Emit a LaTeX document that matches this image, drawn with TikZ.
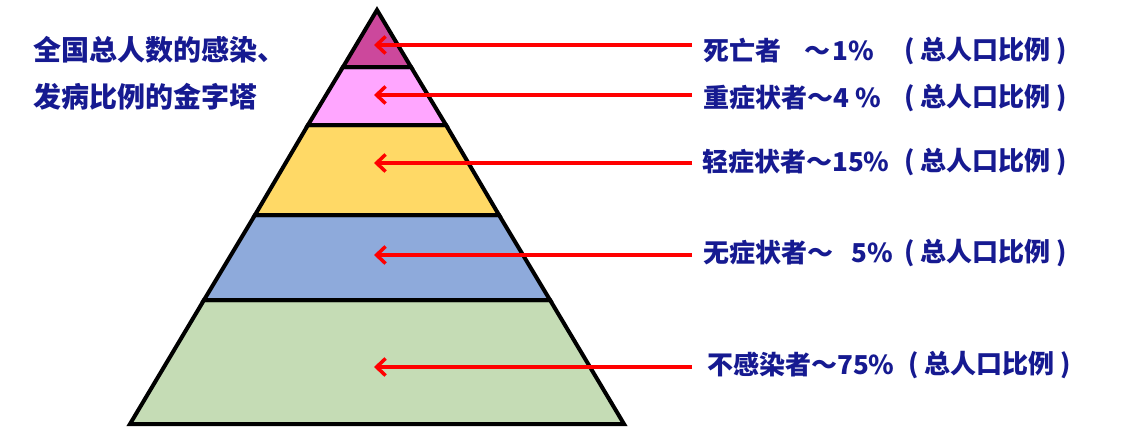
\documentclass[tikz,border=0pt]{standalone}
\usepackage{fontspec}
\setmainfont{Noto Sans CJK SC}
\usetikzlibrary{arrows.meta}
\definecolor{txtblue}{RGB}{22,26,145}
\definecolor{cdeath}{RGB}{204,72,156}
\definecolor{csevere}{RGB}{255,166,255}
\definecolor{cmild}{RGB}{255,217,102}
\definecolor{cnosym}{RGB}{142,170,219}
\definecolor{cnone}{RGB}{197,220,181}
\tikzset{
  layer/.style={draw=black, line width=4pt, line join=miter},
  lbl/.style={font=\fontsize{26}{30}\selectfont\bfseries, text=txtblue, inner sep=0pt, anchor=west},
  ttl/.style={font=\fontsize{28}{32}\selectfont\bfseries, text=txtblue, inner sep=0pt, anchor=west},
  arr/.style={draw=red, line width=3.5pt, -{Straight Barb[length=9pt,width=17pt]}},
}
\begin{document}
\begin{tikzpicture}[x=1pt,y=-1pt]
\useasboundingbox (0,0) rectangle (1143,429);
\fill[white] (0,0) rectangle (1143,429);
% pyramid layers
\filldraw[layer, fill=cnone]   (204,300) -- (550,300) -- (624,424) -- (130,424) -- cycle;
\filldraw[layer, fill=cnosym]  (255,215) -- (499,215) -- (550,300) -- (204,300) -- cycle;
\filldraw[layer, fill=cmild]   (308,125) -- (446,125) -- (499,215) -- (255,215) -- cycle;
\filldraw[layer, fill=csevere] (343,67) -- (411,67) -- (446,125) -- (308,125) -- cycle;
\filldraw[layer, fill=cdeath]  (377,10) -- (411,67) -- (343,67) -- cycle;
% title
\node[ttl] (t1) at (33,50) {全国总人数的感染、};
\node[ttl] (t2) at (33,97) {发病比例的金字塔};
% labels
\node[lbl] (l1) at (703,51) {死亡者\hspace{23pt}～\hspace{2pt}1\%};
\node[lbl] (l2) at (703,98) {重症状者～4\hspace{6pt}\%};
\node[lbl] (l3) at (702,162) {轻症状者～15\%};
\node[lbl] (l4) at (703,253) {无症状者～\hspace{18pt}5\%};
\node[lbl] (l5) at (707,365) {不感染者～75\%};
\node[lbl] (p1) at (904,51) {( 总人口比例 )};
\node[lbl] (p2) at (904,98) {( 总人口比例 )};
\node[lbl] (p3) at (904,162) {( 总人口比例 )};
\node[lbl] (p4) at (904,253) {( 总人口比例 )};
\node[lbl] (p5) at (908,365) {( 总人口比例 )};
% arrow tips and tails
\coordinate (a1) at (374,45);  \coordinate (b1) at (692,45);
\coordinate (a2) at (374,95);  \coordinate (b2) at (692,95);
\coordinate (a3) at (374,163); \coordinate (b3) at (692,163);
\coordinate (a4) at (374,255); \coordinate (b4) at (692,255);
\coordinate (a5) at (374,367); \coordinate (b5) at (692,367);
\foreach \i in {1,...,5} { \draw[arr] (b\i) -- (a\i); }
\end{tikzpicture}
\end{document}
